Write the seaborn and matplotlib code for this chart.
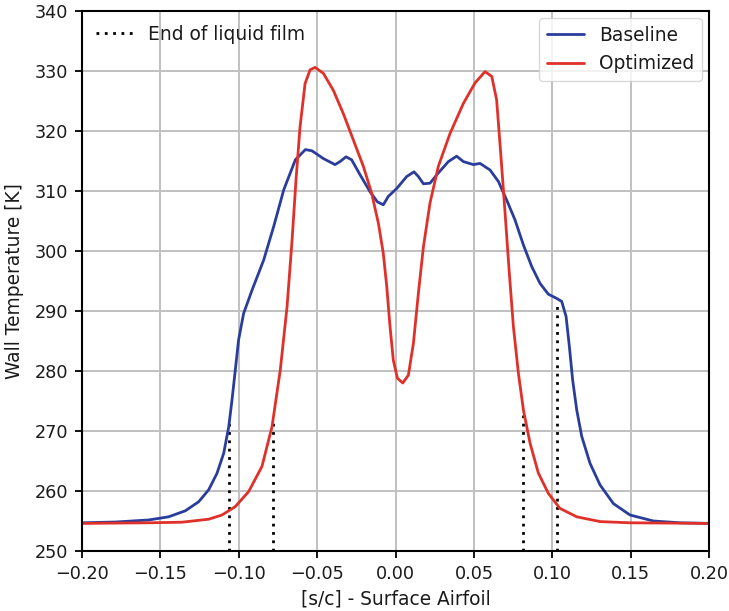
import matplotlib
matplotlib.use("Agg")
import matplotlib.pyplot as plt
import seaborn as sns
import pandas as pd
from matplotlib.lines import Line2D

# Data
baseline_x = [-0.2000, -0.1787, -0.1575, -0.1447, -0.1341, -0.1256, -0.1192, -0.1139, -0.1096, -0.1064,
              -0.1043, -0.1022, -0.1001, -0.0969, -0.0915, -0.0841, -0.0777, -0.0713, -0.0639, -0.0575,
              -0.0533, -0.0460, -0.0386, -0.0354, -0.0316, -0.0280, -0.0226, -0.0163, -0.0116, -0.0078,
              -0.0046, 0.0007, 0.0071, 0.0118, 0.0146, 0.0178, 0.0220, 0.0273, 0.0337, 0.0390,
              0.0433, 0.0497, 0.0539, 0.0603, 0.0656, 0.0709, 0.0762, 0.0816, 0.0869, 0.0922,
              0.0975, 0.1028, 0.1060, 0.1088, 0.1109, 0.1130, 0.1156, 0.1188, 0.1241, 0.1305,
              0.1390, 0.1496, 0.1645, 0.1815, 0.2000]
baseline_T = [254.7, 254.83, 255.17, 255.7, 256.7, 258.2, 260.2, 262.94, 266.3, 270.7,
              275.2, 280.2, 285.2, 289.6, 293.5, 298.5, 304.1, 310.2, 315.2, 316.9,
              316.7, 315.4, 314.4, 314.9, 315.7, 315.2, 312.7, 309.9, 308.2, 307.7,
              309.1, 310.4, 312.4, 313.2, 312.4, 311.2, 311.3, 313.0, 314.9, 315.8,
              314.9, 314.4, 314.6, 313.5, 311.6, 308.5, 305.2, 301.0, 297.4, 294.6,
              292.8, 292.1, 291.6, 289.1, 284.1, 278.5, 273.5, 269.1, 264.6, 261.0,
              257.9, 256.0, 255.0, 254.7, 254.6]

optimized_x = [-0.2000, -0.1575, -0.1362, -0.1192, -0.1107, -0.1022, -0.0937, -0.0852, -0.0788, -0.0735,
               -0.0692, -0.0660, -0.0635, -0.0609, -0.0577, -0.0545, -0.0513, -0.0460, -0.0397, -0.0333,
               -0.0269, -0.0205, -0.0152, -0.0109, -0.0078, -0.0056, -0.0035, -0.0014, 0.0012, 0.0046,
               0.0082, 0.0114, 0.0146, 0.0178, 0.0220, 0.0273, 0.0348, 0.0433, 0.0507, 0.0571,
               0.0614, 0.0645, 0.0671, 0.0699, 0.0726, 0.0752, 0.0784, 0.0816, 0.0858, 0.0911,
               0.0975, 0.1049, 0.1156, 0.1305, 0.1496, 0.2000]
optimized_T = [254.6, 254.7, 254.8, 255.3, 256.0, 257.4, 259.9, 264.1, 270.7, 280.2,
               290.7, 301.8, 311.8, 320.7, 327.9, 330.2, 330.6, 329.6, 326.8, 322.9,
               318.5, 314.1, 309.6, 304.6, 299.6, 294.1, 287.4, 281.8, 278.8, 278.0,
               279.3, 284.6, 293.0, 300.7, 308.0, 314.1, 319.6, 324.6, 328.0, 329.9,
               329.1, 325.2, 316.3, 306.3, 296.3, 287.4, 279.6, 273.5, 268.0, 263.0,
               259.6, 257.1, 255.7, 254.9, 254.7, 254.6]

film_end_x = [-0.1064, -0.0781, 0.0816, 0.1028]
film_end_T = [271.4, 271.4, 272.7, 291.7]

series_names = ["Baseline", "Optimized"]
colors = {"Baseline": "#2a3d9c", "Optimized": "#e0302a"}

df = pd.concat([
    pd.DataFrame({"s": baseline_x, "T": baseline_T, "case": "Baseline"}),
    pd.DataFrame({"s": optimized_x, "T": optimized_T, "case": "Optimized"}),
], ignore_index=True)

sns.set_style("whitegrid")
plt.rcParams["font.family"] = ["DejaVu Sans"]
plt.rcParams["text.color"] = "#1a1a1a"

fig = plt.figure(figsize=(7.29, 6.11), dpi=100)
ax = fig.add_axes([0.1125, 0.0982, 0.8601, 0.8838])

sns.lineplot(data=df, x="s", y="T", hue="case", palette=colors, sort=False,
             estimator=None, linewidth=2.0, ax=ax, legend=False)

for xv, tv in zip(film_end_x, film_end_T):
    ax.plot([xv, xv], [250, tv], color="black", linestyle=(0, (1, 2)), linewidth=2.0, zorder=1)

ax.set_xlim(-0.2, 0.2)
ax.set_ylim(250, 340)
ax.set_xticks([-0.2, -0.15, -0.1, -0.05, 0.0, 0.05, 0.1, 0.15, 0.2])
ax.set_yticks(range(250, 341, 10))
ax.set_xlabel("[s/c] - Surface Airfoil", fontsize=13.4, labelpad=5, color="#1a1a1a")
ax.set_ylabel("Wall Temperature [K]", fontsize=13.4, labelpad=8, color="#1a1a1a")
ax.tick_params(axis="both", labelsize=12.7, length=5, width=1.3, pad=5, direction="out",
               colors="black", labelcolor="#1a1a1a", bottom=True, left=True)
ax.grid(True, color="#c0c0c0", linewidth=1.4)
for sp in ax.spines.values():
    sp.set_visible(True)
    sp.set_color("black")
    sp.set_linewidth(1.5)

h_film = [Line2D([0], [0], color="black", linestyle=(0, (1, 2)), linewidth=2.0)]
leg1 = ax.legend(h_film, ["End of liquid film"], loc="upper left", frameon=False,
                 fontsize=13.4, borderaxespad=0.35)
ax.add_artist(leg1)
h_lines = [Line2D([0], [0], color=colors[n], linewidth=2.0) for n in series_names]
ax.legend(h_lines, series_names, loc="upper right", frameon=True, fontsize=13.4,
          borderaxespad=0.4, framealpha=0.8, edgecolor="#d0d0d0")

fig.savefig("out.png", dpi=100)
